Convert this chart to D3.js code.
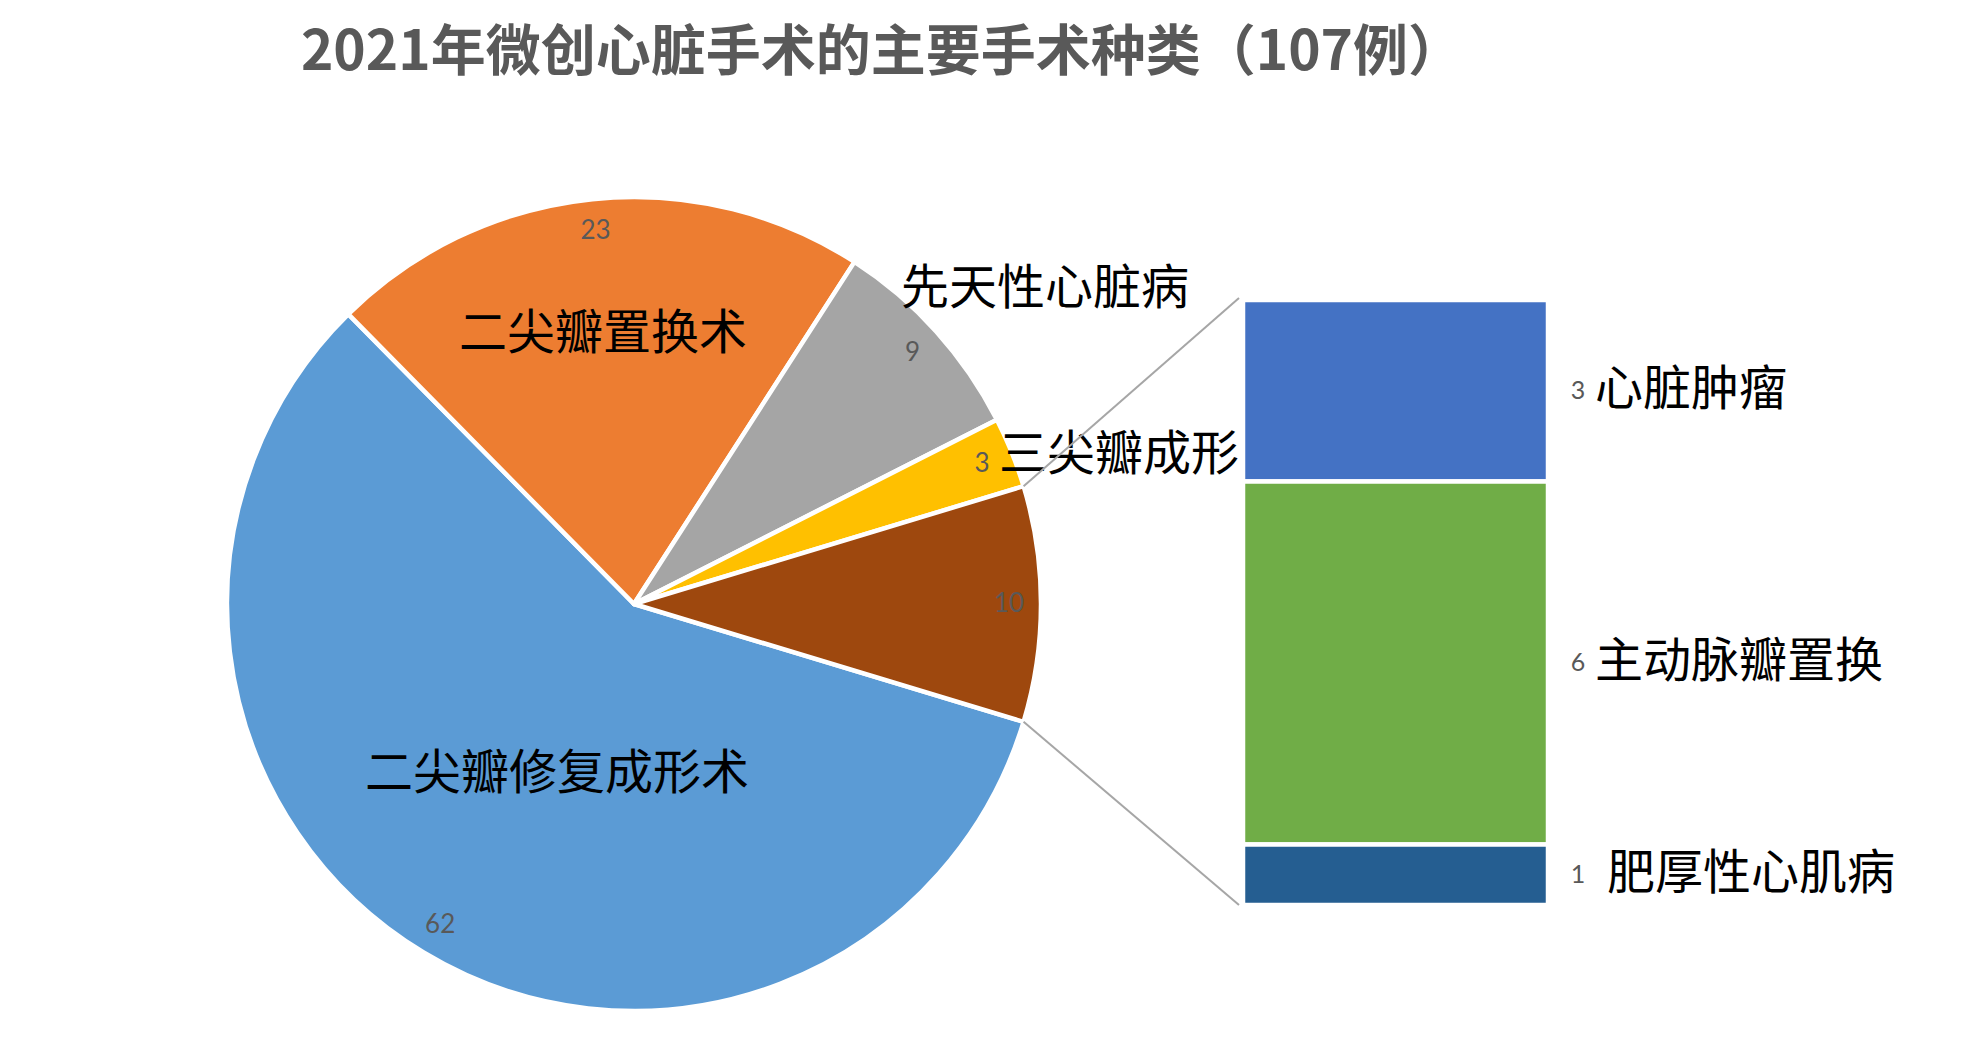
<!DOCTYPE html>
<html><head><meta charset="utf-8">
<script src="https://cdn.jsdelivr.net/npm/d3@7"></script>
<style>
html,body{margin:0;padding:0;background:#fff;}
svg{display:block;}
</style></head>
<body>
<svg id="chart" width="1973" height="1052"></svg>
<script>
// ---------- data ----------
const titleText = "2021年微创心脏手术的主要手术种类（107例）";
const pieCategories = ["二尖瓣修复成形术", "二尖瓣置换术", "先天性心脏病", "三尖瓣成形", "其他"];
const pieValues = [62, 23, 9, 3, 10];
const barCategories = ["心脏肿瘤", "主动脉瓣置换", "肥厚性心肌病"];
const barValues = [3, 6, 1];

// ---------- styles / layout ----------
const pieColors = ["#5B9BD5", "#ED7D31", "#A5A5A5", "#FFC000", "#9E480E"];
const barColors = ["#4472C4", "#70AD47", "#255E91"];
const cjk = "'Noto Sans CJK SC', 'Noto Sans', sans-serif";
const numFont = "Lato, 'Noto Sans', sans-serif";
const cx = 634, cy = 604, R = 407;
const barX0 = 1245, barX1 = 1546, barY0 = 300, barY1 = 905;
// category label offsets from pie centre (layout only)
const catLabelOffset = [[-77, 171], [-31, -269], [411, -314], [485, -148], null];
const valueLabelR = 375;
const cjkDy = -7; // baseline correction for CJK glyphs

const svg = d3.select("#chart");

// title
svg.append("text")
  .attr("x", 882).attr("y", 46)
  .attr("text-anchor", "middle").attr("dominant-baseline", "central")
  .style("font-family", cjk).style("font-weight", "bold")
  .style("font-size", "55px").style("fill", "#595959")
  .text(titleText);

// ---------- pie ----------
const total = d3.sum(pieValues);
const otherVal = pieValues[pieValues.length - 1];
const startA = Math.PI / 2 + (otherVal / total) * Math.PI; // center "other" slice at 3 o'clock
const pie = d3.pie().sort(null).value(d => d)
  .startAngle(startA).endAngle(startA + 2 * Math.PI);
const arcs = pie(pieValues);
const arc = d3.arc().innerRadius(0).outerRadius(R);
const labelArc = d3.arc().innerRadius(valueLabelR).outerRadius(valueLabelR);

const g = svg.append("g").attr("transform", `translate(${cx},${cy})`);
g.selectAll("path.slice").data(arcs).join("path")
  .attr("class", "slice")
  .attr("d", arc)
  .attr("fill", (d, i) => pieColors[i])
  .attr("stroke", "#fff").attr("stroke-width", 4.5).attr("stroke-linejoin", "round");

// value labels
g.selectAll("text.val").data(arcs).join("text")
  .attr("class", "val")
  .attr("transform", d => `translate(${labelArc.centroid(d)})`)
  .attr("dy", -2)
  .attr("text-anchor", "middle").attr("dominant-baseline", "central")
  .style("font-family", numFont).style("font-size", "26px").style("fill", "#595959")
  .text(d => d.value);

// category labels
g.selectAll("text.cat").data(arcs.filter((d, i) => catLabelOffset[i])).join("text")
  .attr("class", "cat")
  .attr("transform", d => `translate(${catLabelOffset[d.index]})`)
  .attr("dy", cjkDy)
  .attr("text-anchor", "middle").attr("dominant-baseline", "central")
  .style("font-family", cjk).style("font-size", "48px").style("fill", "#000")
  .text(d => pieCategories[d.index]);

// ---------- connector lines ----------
const other = arcs[arcs.length - 1];
const corner = a => [cx + R * Math.sin(a), cy - R * Math.cos(a)];
const y = d3.scaleLinear().domain([0, d3.sum(barValues)]).range([barY0, barY1]);
const lines = [[corner(other.startAngle), [barX0 - 6, y(0) - 2]],
               [corner(other.endAngle), [barX0 - 6, y(d3.sum(barValues))]]];
svg.selectAll("line.conn").data(lines).join("line")
  .attr("class", "conn")
  .attr("x1", d => d[0][0]).attr("y1", d => d[0][1])
  .attr("x2", d => d[1][0]).attr("y2", d => d[1][1])
  .attr("stroke", "#A6A6A6").attr("stroke-width", 2);

// ---------- stacked bar ----------
const cum = [];
barValues.reduce((acc, v, i) => { cum.push([acc, acc + v]); return acc + v; }, 0);
const bg = svg.append("g");
bg.selectAll("rect").data(cum).join("rect")
  .attr("x", barX0 - 2).attr("width", barX1 - barX0 + 4)
  .attr("y", d => y(d[0])).attr("height", d => y(d[1]) - y(d[0]))
  .attr("fill", (d, i) => barColors[i])
  .attr("stroke", "#fff").attr("stroke-width", 4.5);

bg.selectAll("text.bval").data(cum).join("text")
  .attr("class", "bval")
  .attr("x", 1578).attr("y", d => (y(d[0]) + y(d[1])) / 2)
  .attr("dy", -2)
  .attr("text-anchor", "middle").attr("dominant-baseline", "central")
  .style("font-family", numFont).style("font-size", "25px").style("fill", "#595959")
  .text((d, i) => barValues[i]);

bg.selectAll("text.bcat").data(cum).join("text")
  .attr("class", "bcat")
  .attr("x", (d, i) => i === 2 ? 1607 : 1595).attr("y", d => (y(d[0]) + y(d[1])) / 2)
  .attr("dy", cjkDy)
  .attr("text-anchor", "start").attr("dominant-baseline", "central")
  .style("font-family", cjk).style("font-size", "48px").style("fill", "#000")
  .text((d, i) => barCategories[i]);
</script>
</body></html>
